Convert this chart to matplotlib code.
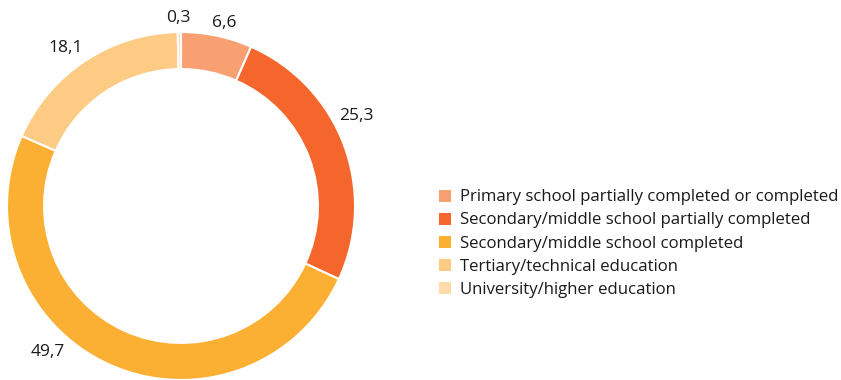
import matplotlib.pyplot as plt
from matplotlib.patches import Patch

plt.rcParams['font.family'] = ['Open Sans', 'DejaVu Sans']

categories = ['Primary school partially completed or completed',
              'Secondary/middle school partially completed',
              'Secondary/middle school completed',
              'Tertiary/technical education',
              'University/higher education']
values = [6.6, 25.3, 49.7, 18.1, 0.3]
value_labels = ['6,6', '25,3', '49,7', '18,1', '0,3']
colors = ['#F8A072', '#F4662B', '#FBB034', '#FDCB84', '#FDDCA8']

# where each value label sits around the ring (axes data units)
label_pos = [(0.247, 1.052), (1.006, 0.517), (-0.764, -0.839),
             (-0.661, 0.908), (-0.017, 1.080)]

fig = plt.figure(figsize=(8.41, 3.8), dpi=100)
ax = fig.add_axes([7 / 841, 0, 348 / 841, 348 / 380])

wedges, _ = ax.pie(values, colors=colors, startangle=90, counterclock=False,
                   radius=1, wedgeprops=dict(width=0.213, edgecolor='white', linewidth=1.5))
ax.set_xlim(-1, 1)
ax.set_ylim(-1, 1)
ax.set_aspect('equal')
ax.axis('off')

for txt, (x, y) in zip(value_labels, label_pos):
    ax.text(x, y, txt, ha='center', va='center', fontsize=12.5, color='#1a1a1a')

handles = [Patch(facecolor=c, edgecolor='none') for c in colors]
fig.legend(handles, categories, loc='center left',
           bbox_to_anchor=(439 / 841, 1 - 243.5 / 380),
           frameon=False, fontsize=12.1, handlelength=0.72, handleheight=0.72,
           handletextpad=0.54, labelspacing=0.42, borderpad=0, borderaxespad=0,
           labelcolor='#1a1a1a')

fig.savefig('out.png', dpi=100)
